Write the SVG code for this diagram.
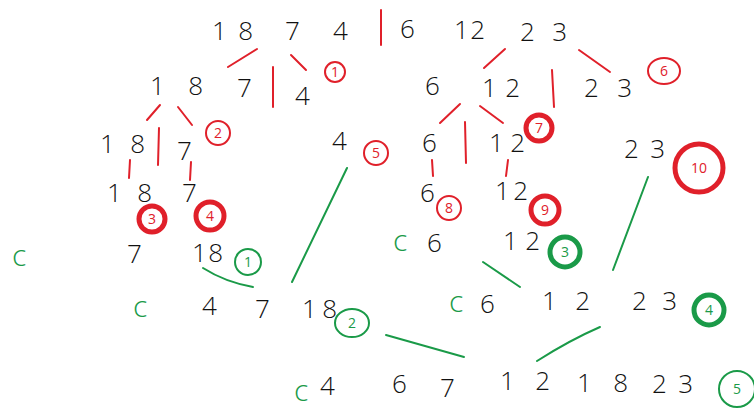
<svg xmlns="http://www.w3.org/2000/svg" width="754" height="410" viewBox="0 0 754 410">
<style>
.n{font-family:"Open Sans","Liberation Sans",sans-serif;font-weight:300;font-size:26px;fill:#111}
.c{font-family:"Open Sans","Liberation Sans",sans-serif;font-weight:300;font-size:30px;fill:#1a9a48}
.rl{stroke:#e0202a;stroke-width:2;stroke-linecap:round;fill:none}
.gl{stroke:#1a9a48;stroke-width:2;stroke-linecap:round;fill:none}
.rc{fill:none;stroke:#e0202a;stroke-width:2}
.rcb{fill:none;stroke:#e0202a;stroke-width:5}
.gc{fill:none;stroke:#1a9a48;stroke-width:2}
.gcb{fill:none;stroke:#1a9a48;stroke-width:5}
.rt{font-family:"Open Sans","Liberation Sans",sans-serif;font-size:14px;fill:#e0202a;text-anchor:middle}
.gt{font-family:"Open Sans","Liberation Sans",sans-serif;font-size:14px;fill:#1a9a48;text-anchor:middle}
</style>
<rect width="754" height="410" fill="#fff"/>
<g id="connectors">
<line class="rl" x1="381" y1="10" x2="381" y2="45"/>
<line class="rl" x1="257" y1="49" x2="228" y2="67"/>
<line class="rl" x1="291" y1="55" x2="306" y2="70"/>
<line class="rl" x1="505" y1="49" x2="484" y2="68"/>
<line class="rl" x1="579" y1="50" x2="610" y2="72"/>
<line class="rl" x1="273" y1="67" x2="273" y2="107"/>
<line class="rl" x1="552" y1="70" x2="554" y2="107"/>
<line class="rl" x1="160" y1="105" x2="147" y2="120"/>
<line class="rl" x1="178" y1="107" x2="192" y2="125"/>
<line class="rl" x1="460" y1="104" x2="440" y2="123"/>
<line class="rl" x1="480" y1="106" x2="503" y2="123"/>
<line class="rl" x1="159" y1="128" x2="158" y2="165"/>
<line class="rl" x1="465" y1="122" x2="466" y2="163"/>
<line class="rl" x1="130" y1="160" x2="129" y2="178"/>
<line class="rl" x1="191" y1="162" x2="190" y2="180"/>
<line class="rl" x1="432" y1="160" x2="433" y2="176"/>
<line class="rl" x1="508" y1="160" x2="506" y2="176"/>
<path class="gl" d="M203,268 Q225,282 253,287"/>
<line class="gl" x1="347" y1="168" x2="292" y2="282"/>
<line class="gl" x1="648" y1="177" x2="613" y2="270"/>
<line class="gl" x1="483" y1="262" x2="520" y2="287"/>
<line class="gl" x1="386" y1="335" x2="464" y2="357"/>
<path class="gl" d="M537,361 Q570,340 600,327"/>
</g>
<g id="row1">
<text class="n" x="212" y="40" textLength="41" lengthAdjust="spacing">18</text>
<text class="n" x="285" y="40">7</text>
<text class="n" x="333" y="40">4</text>
<text class="n" x="400" y="38">6</text>
<text class="n" x="454" y="39" textLength="31" lengthAdjust="spacing">12</text>
<text class="n" x="520" y="41" textLength="47" lengthAdjust="spacing">23</text>
</g>
<g id="row2">
<text class="n" x="150" y="95" textLength="53" lengthAdjust="spacing">18</text>
<text class="n" x="237" y="97">7</text>
<text class="n" x="295" y="105">4</text>
<text class="n" x="425" y="95">6</text>
<text class="n" x="482" y="97" textLength="38" lengthAdjust="spacing">12</text>
<text class="n" x="584" y="97" textLength="48" lengthAdjust="spacing">23</text>
</g>
<g id="row3">
<text class="n" x="100" y="153" textLength="45" lengthAdjust="spacing">18</text>
<text class="n" x="177" y="160">7</text>
<text class="n" x="332" y="150">4</text>
<text class="n" x="422" y="152">6</text>
<text class="n" x="489" y="152" textLength="36" lengthAdjust="spacing">12</text>
<text class="n" x="624" y="158" textLength="41" lengthAdjust="spacing">23</text>
</g>
<g id="row4">
<text class="n" x="107" y="202" textLength="45" lengthAdjust="spacing">18</text>
<text class="n" x="182" y="202">7</text>
<text class="n" x="420" y="202">6</text>
<text class="n" x="495" y="200" textLength="33" lengthAdjust="spacing">12</text>
</g>
<g id="row5">
<text class="c" x="12" y="266">c</text>
<text class="n" x="127" y="263">7</text>
<text class="n" x="192" y="262" textLength="31" lengthAdjust="spacing">18</text>
<text class="c" x="393" y="251">c</text>
<text class="n" x="427" y="252">6</text>
<text class="n" x="503" y="250" textLength="37" lengthAdjust="spacing">12</text>
</g>
<g id="row6">
<text class="c" x="133" y="317">c</text>
<text class="n" x="202" y="315">4</text>
<text class="n" x="255" y="318">7</text>
<text class="n" x="302" y="318" textLength="35" lengthAdjust="spacing">18</text>
<text class="c" x="449" y="312">c</text>
<text class="n" x="480" y="313">6</text>
<text class="n" x="542" y="310" textLength="48" lengthAdjust="spacing">12</text>
<text class="n" x="632" y="310" textLength="45" lengthAdjust="spacing">23</text>
</g>
<g id="row7">
<text class="c" x="294" y="401">c</text>
<text class="n" x="320" y="395">4</text>
<text class="n" x="392" y="393">6</text>
<text class="n" x="440" y="397">7</text>
<text class="n" x="500" y="390" textLength="50" lengthAdjust="spacing">12</text>
<text class="n" x="577" y="392" textLength="51" lengthAdjust="spacing">18</text>
<text class="n" x="652" y="393" textLength="41" lengthAdjust="spacing">23</text>
</g>
<g id="step-r1"><circle class="rc" cx="335" cy="72" r="10"/><text class="rt" x="335" y="77">1</text></g>
<g id="step-r2"><circle class="rc" cx="218" cy="133" r="12"/><text class="rt" x="218" y="138">2</text></g>
<g id="step-r3"><circle class="rcb" cx="152" cy="219" r="13"/><text class="rt" x="152" y="224">3</text></g>
<g id="step-r4"><circle class="rcb" cx="210" cy="216" r="14"/><text class="rt" x="210" y="221">4</text></g>
<g id="step-r5"><circle class="rc" cx="376" cy="153" r="12"/><text class="rt" x="376" y="158">5</text></g>
<g id="step-r6"><ellipse class="rc" cx="664" cy="71" rx="16" ry="13"/><text class="rt" x="664" y="76">6</text></g>
<g id="step-r7"><circle class="rcb" cx="539" cy="128" r="13"/><text class="rt" x="539" y="133">7</text></g>
<g id="step-r8"><circle class="rc" cx="449" cy="208" r="12"/><text class="rt" x="449" y="213">8</text></g>
<g id="step-r9"><circle class="rcb" cx="545" cy="210" r="14"/><text class="rt" x="545" y="215">9</text></g>
<g id="step-r10"><circle class="rcb" cx="699" cy="168" r="24"/><text class="rt" x="699" y="173">10</text></g>
<g id="step-g1"><circle class="gc" cx="248" cy="262" r="13"/><text class="gt" x="248" y="267">1</text></g>
<g id="step-g2"><ellipse class="gc" cx="352" cy="323" rx="17" ry="14"/><text class="gt" x="352" y="328">2</text></g>
<g id="step-g3"><circle class="gcb" cx="565" cy="252" r="15"/><text class="gt" x="565" y="257">3</text></g>
<g id="step-g4"><circle class="gcb" cx="709" cy="310" r="15"/><text class="gt" x="709" y="315">4</text></g>
<g id="step-g5"><circle class="gc" cx="737" cy="389" r="18"/><text class="gt" x="737" y="394">5</text></g>
</svg>
